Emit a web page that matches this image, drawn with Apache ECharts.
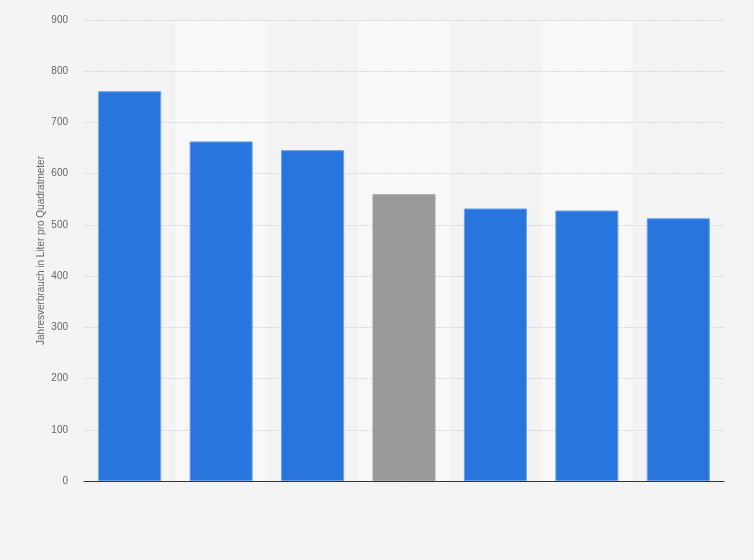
<!DOCTYPE html>
<html><head><meta charset="utf-8">
<script src="https://cdn.jsdelivr.net/npm/echarts@6/dist/echarts.min.js"></script>
<style>html,body{margin:0;padding:0;background:#f3f3f3;}#c{width:754px;height:560px;}</style>
</head><body><div id="c"></div>
<script>
var categories = ['1', '2', '3', '4', '5', '6', '7'];
var values = [761, 663, 646, 560, 532, 528, 513];
var highlightIndex = 3;
var yTicks = { min: 0, max: 900, interval: 100 };
var yAxisName = 'Jahresverbrauch in Liter pro Quadratmeter';

var chart = echarts.init(document.getElementById('c'));
chart.setOption({
  backgroundColor: '#f3f3f3',
  animation: false,
  grid: { left: 84, right: 30, top: 20, bottom: 79 },
  xAxis: {
    type: 'category',
    data: categories,
    z: 0,
    axisLine: { lineStyle: { color: '#333', width: 1 } },
    axisTick: { show: false },
    axisLabel: { show: false },
    splitArea: { show: true, areaStyle: { color: ['#f3f3f3', '#f8f8f8'] } }
  },
  yAxis: {
    type: 'value',
    z: 1,
    min: yTicks.min, max: yTicks.max, interval: yTicks.interval,
    name: yAxisName,
    nameLocation: 'middle',
    nameGap: 38,
    nameMoveOverlap: false,
    nameTextStyle: { color: '#666', fontSize: 10, fontFamily: 'Arial, Liberation Sans, sans-serif' },
    axisLine: { show: false },
    axisTick: { show: false },
    axisLabel: { color: '#666', fontSize: 10, margin: 16, fontFamily: 'Arial, Liberation Sans, sans-serif' },
    splitLine: { showMinLine: false, lineStyle: { color: '#d8d8d8', type: [2, 1], width: 1 } }
  },
  series: [{
    type: 'bar',
    z: 3,
    barWidth: '69%',
    data: values.map(function (v, i) {
      var hl = i === highlightIndex;
      return {
        value: v,
        itemStyle: {
          color: hl ? '#999999' : '#2876dd',
          borderColor: hl ? '#aaaaaa' : '#6aa5ea',
          borderWidth: 1
        }
      };
    })
  }]
});
</script>
</body></html>
